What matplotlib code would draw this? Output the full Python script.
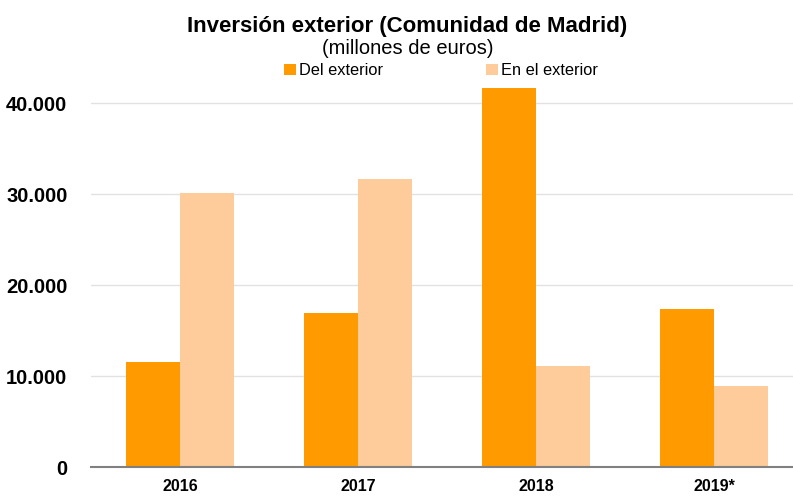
import numpy as np
import matplotlib
matplotlib.use("Agg")
import matplotlib.pyplot as plt

plt.rcParams['font.family'] = ['Liberation Sans', 'DejaVu Sans']

years = ["2016", "2017", "2018", "2019*"]
del_exterior = [11600, 17000, 41700, 17400]
en_exterior = [30200, 31700, 11200, 9000]
yticks = [0, 10000, 20000, 30000, 40000]
ytick_labels = ["0", "10.000", "20.000", "30.000", "40.000"]

fig = plt.figure(figsize=(7.93, 4.96), dpi=100)
# axes runs a bit past the right edge, like the original
ax = fig.add_axes([0.1148, 0.0575, 0.8979, 0.78])

x = np.arange(len(years))
w = 0.303
ax.bar(x - w / 2, del_exterior, w, color="#FF9A00", label="Del exterior", zorder=2)
ax.bar(x + w / 2, en_exterior, w, color="#FECB9A", label="En el exterior", zorder=2)

ax.set_xlim(-0.5, 3.5)
ax.set_ylim(0, 42500)
ax.set_yticks(yticks)
ax.set_yticklabels(ytick_labels, fontsize=14.5, fontweight="bold")
ax.set_xticks(x)
ax.set_xticklabels(years, fontsize=11.5, fontweight="bold")
ax.tick_params(length=0)
ax.tick_params(axis="y", pad=17)
ax.tick_params(axis="x", pad=8)
ax.grid(axis="y", color="#e2e2e2", linewidth=1, zorder=0)
for s in ["top", "right", "left"]:
    ax.spines[s].set_visible(False)
ax.spines["bottom"].set_color("#808080")
ax.spines["bottom"].set_linewidth(1.5)
ax.spines["bottom"].set_zorder(3)

fig.text(0.514, 0.947, "Inversión exterior (Comunidad de Madrid)", ha="center", va="center",
         fontsize=16, fontweight="bold")
fig.text(0.514, 0.902, "(millones de euros)", ha="center", va="center", fontsize=14.5)
fig.legend(loc="center", bbox_to_anchor=(0.556, 0.857), ncol=2, frameon=False, fontsize=11.8,
           handlelength=0.7, handleheight=0.7, handletextpad=0.2, columnspacing=6.3)

fig.savefig("out.png", dpi=100)
